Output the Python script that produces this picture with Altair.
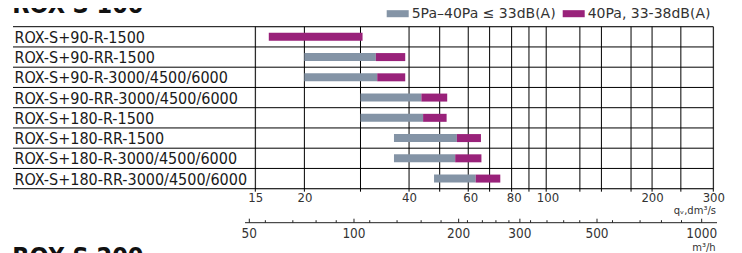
import altair as alt
import pandas as pd

# ---------------- data ----------------
models = [
    "ROX-S+90-R-1500",
    "ROX-S+90-RR-1500",
    "ROX-S+90-R-3000/4500/6000",
    "ROX-S+90-RR-3000/4500/6000",
    "ROX-S+180-R-1500",
    "ROX-S+180-RR-1500",
    "ROX-S+180-R-3000/4500/6000",
    "ROX-S+180-RR-3000/4500/6000",
]
q_start = [15.8, 20.0, 20.0, 29.0, 29.0, 36.2, 36.2, 47.2]   # dm3/s, start of grey range
q_mid = [15.8, 32.1, 32.4, 43.4, 43.9, 54.9, 54.3, 62.2]     # dm3/s, grey -> purple
q_end = [29.4, 39.0, 39.0, 51.5, 51.3, 64.4, 64.6, 73.2]     # dm3/s, end of purple range

seg_names = ["5Pa–40Pa ≤ 33dB(A)", "40Pa, 33-38dB(A)"]
seg_colors = ["#8494a6", "#99227a"]

q_domain = [14.45, 300]
grid_q = [14.45, 20, 29, 40, 49, 59.2, 68.2, 78.9, 88.5, 99.2, 124, 143, 174, 200, 242, 300]
tick_q = [14.45, 20, 40, 60, 80, 100, 200, 300]

m3h_major = [50, 100, 200, 300, 500, 1000]
m3h_minor = [55.6, 66.7, 77.8, 88.9, 111, 133, 156, 178, 212, 234, 256, 279,
             322, 359, 401, 446, 554, 665, 766, 875]
m3h_line = [48.6, 1107]
M3H_PER_DM3S = 3.6

unit_q = ["qᵥ,dm³/s"]
unit_m3h = ["m³/h"]
title_top = ["ROX-S 100"]
title_bottom = ["ROX-S 200"]

# ---------------- layout ----------------
W, H = 458, 162
ROWH = H / len(models)
F = "DejaVu Sans Condensed"
F2 = "DejaVu Sans"
LEFT = -242.3

xscale = alt.Scale(type="log", domain=q_domain, nice=False)
yscale = alt.Scale(paddingInner=0, paddingOuter=0)

rows = []
for m, a, b, c in zip(models, q_start, q_mid, q_end):
    if b > a:
        rows.append(dict(model=m, seg=seg_names[0], x0=a, x1=b))
    rows.append(dict(model=m, seg=seg_names[1], x0=b, x1=c))
seg_df = pd.DataFrame(rows)

xaxis = alt.Axis(
    values=tick_q, title=None, ticks=False, domain=False, grid=False,
    labelExpr="datum.value < 15 ? '15' : format(datum.value, 'd')",
    labelPadding=2.5, labelFontSize=13, labelFont=F, labelColor="#333",
    labelFlush=False, labelOverlap=False,
)
yaxis = alt.Axis(
    title=None, ticks=False, domain=False, grid=False,
    labelAlign="left", labelPadding=241.3, labelFontSize=16, labelFont=F,
    labelColor="#1a1a1a", labelLimit=400, labelOffset=1,
)


def X(field):
    return alt.X(field, scale=xscale, axis=xaxis)


def Y():
    return alt.Y("model:N", sort=models, scale=yscale, axis=yaxis)


vgrid = alt.Chart(pd.DataFrame({"q": grid_q})).mark_rule(color="black", strokeWidth=1).encode(
    x=X("q:Q"),
    y=alt.value(0),
    y2=alt.value(H + 3),
)

hgrid = alt.Chart(pd.DataFrame({"model": models})).mark_rule(
    color="black", strokeWidth=1, yOffset=-ROWH / 2
).encode(y=Y(), x=alt.value(LEFT), x2=alt.value(W))

hbottom = alt.Chart(pd.DataFrame({"model": models[-1:]})).mark_rule(
    color="black", strokeWidth=1, yOffset=ROWH / 2
).encode(y=Y(), x=alt.value(LEFT), x2=alt.value(W))

bars = alt.Chart(seg_df).mark_bar(size=8).encode(
    x=X("x0:Q"),
    x2="x1:Q",
    y=Y(),
    color=alt.Color(
        "seg:N",
        scale=alt.Scale(domain=seg_names, range=seg_colors),
        legend=alt.Legend(
            title=None, orient="none", legendX=131.4, legendY=-24,
            direction="horizontal", symbolType="M-1,-0.32H1V0.32H-1Z",
            symbolSize=484, symbolStrokeWidth=0, labelFontSize=14, labelFont=F2,
            labelColor="#333", labelOffset=3, columnPadding=7, padding=0,
            labelLimit=300,
        ),
    ),
)

# second axis (m3/h) drawn on the same log scale
AX2 = 196
ax2_line = alt.Chart(pd.DataFrame({"a": [m3h_line[0]], "b": [m3h_line[1]]})).transform_calculate(
    qa=f"datum.a / {M3H_PER_DM3S}", qb=f"datum.b / {M3H_PER_DM3S}"
).mark_rule(color="#222", strokeWidth=1).encode(x=X("qa:Q"), x2="qb:Q", y=alt.value(AX2))
ax2_major = alt.Chart(pd.DataFrame({"m": m3h_major})).transform_calculate(
    q=f"datum.m / {M3H_PER_DM3S}"
).mark_rule(color="#222", strokeWidth=1).encode(
    x=X("q:Q"), y=alt.value(AX2 - 4), y2=alt.value(AX2)
)
ax2_minor = alt.Chart(pd.DataFrame({"m": m3h_minor})).transform_calculate(
    q=f"datum.m / {M3H_PER_DM3S}"
).mark_rule(color="#222", strokeWidth=1).encode(
    x=X("q:Q"), y=alt.value(AX2 - 2.5), y2=alt.value(AX2)
)
ax2_labels = alt.Chart(pd.DataFrame({"m": m3h_major})).transform_calculate(
    q=f"datum.m / {M3H_PER_DM3S}"
).mark_text(font=F, fontSize=13.5, color="#333", baseline="middle").encode(
    x=X("q:Q"), y=alt.value(AX2 + 11.5),
    text=alt.Text("m:Q", format="d"),
)

unit1 = alt.Chart(pd.DataFrame({"t": unit_q})).mark_text(
    font=F2, fontSize=10, color="#333", align="right", baseline="middle"
).encode(x=alt.value(460.7), y=alt.value(184.5), text="t:N")
unit2 = alt.Chart(pd.DataFrame({"t": unit_m3h})).mark_text(
    font=F2, fontSize=10, color="#333", align="right", baseline="middle"
).encode(x=alt.value(460.4), y=alt.value(221.3), text="t:N")

t_top = alt.Chart(pd.DataFrame({"t": title_top})).mark_text(
    font=F, fontSize=25, fontWeight="bold", color="#111", align="left", baseline="alphabetic"
).encode(x=alt.value(-243), y=alt.value(-14), text="t:N")
t_bot = alt.Chart(pd.DataFrame({"t": title_bottom})).mark_text(
    font=F, fontSize=25, fontWeight="bold", color="#111", align="left", baseline="alphabetic"
).encode(x=alt.value(-243), y=alt.value(238), text="t:N")

chart = alt.layer(
    vgrid, hgrid, hbottom, bars, ax2_line, ax2_major, ax2_minor, ax2_labels,
    unit1, unit2, t_top, t_bot,
).properties(
    width=W, height=H,
    autosize=alt.AutoSizeParams(type="none"),
    padding={"left": 247.3, "top": 18.7, "right": 20.7, "bottom": 64.3},
).configure_view(stroke=None).configure(background="white")

chart.save("out.html", embed_options={"renderer": "svg", "actions": False})
